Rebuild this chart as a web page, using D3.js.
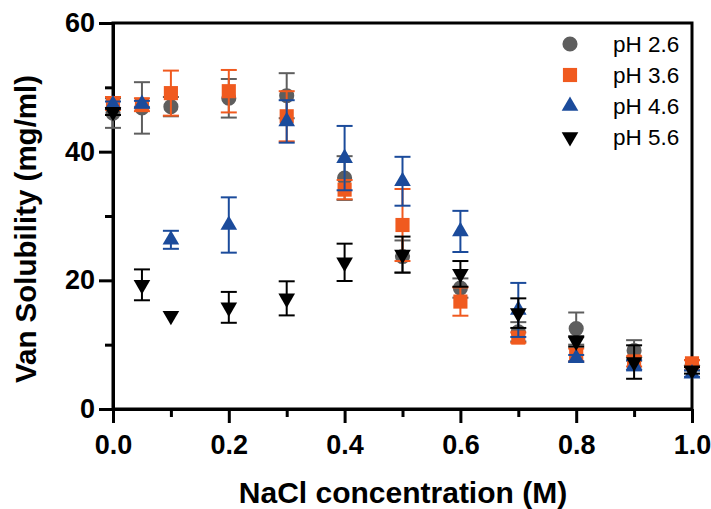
<!DOCTYPE html>
<html><head><meta charset="utf-8">
<script src="https://cdn.jsdelivr.net/npm/d3@7"></script>
<style>body{margin:0;background:#fff}svg{display:block}text{font-family:"Liberation Sans",Arial,Helvetica,sans-serif}</style>
</head><body>
<svg id="c" width="711" height="509"></svg>
<script>
const xValues = [0, 0.05, 0.1, 0.2, 0.3, 0.4, 0.5, 0.6, 0.7, 0.8, 0.9, 1.0];
const ph26 = [46.0, 46.8, 47.0, 48.3, 48.7, 35.9, 23.7, 18.8, 12.0, 12.5, 9.1, 6.8];
const ph26Err = [2.3, 4.0, 1.5, 3.0, 3.5, 3.4, 2.5, 1.5, 1.5, 2.5, 1.6, 0.8];
const ph36 = [47.5, 47.3, 49.1, 49.4, 45.5, 34.1, 28.6, 16.7, 11.1, 8.4, 7.4, 7.1];
const ph36Err = [1.0, 1.0, 3.5, 3.3, 3.9, 1.5, 5.6, 2.2, 0.8, 1.0, 0.8, 0.5];
const ph46 = [47.3, 47.4, 26.3, 28.6, 44.7, 39.0, 35.4, 27.6, 15.4, 7.9, 6.8, 5.5];
const ph46Err = [0.5, 0.5, 1.4, 4.3, 3.3, 5.0, 3.8, 3.2, 4.2, 0.5, 0.8, 0.5];
const ph56 = [46.2, 19.3, 14.5, 15.8, 17.2, 22.8, 24.0, 21.0, 14.9, 10.5, 7.3, 6.0];
const ph56Err = [0.5, 2.4, 0, 2.4, 2.65, 2.9, 2.8, 2.0, 2.3, 0.8, 2.6, 0.5];
const seriesNames = ["pH 2.6", "pH 3.6", "pH 4.6", "pH 5.6"];
const xTicks = [0, 0.2, 0.4, 0.6, 0.8, 1.0];
const xMinorTicks = [0.1, 0.3, 0.5, 0.7, 0.9];
const yTicks = [0, 20, 40, 60];
const yMinorTicks = [10, 30, 50];

const series = [
  {name: seriesNames[0], vals: ph26, err: ph26Err, color: "#5e5e5e", sym: d3.symbolCircle, size: 180, rot: 0},
  {name: seriesNames[1], vals: ph36, err: ph36Err, color: "#f05a1f", sym: d3.symbolSquare, size: 200, rot: 0},
  {name: seriesNames[2], vals: ph46, err: ph46Err, color: "#1b4b9b", sym: d3.symbolTriangle, size: 120, rot: 0},
  {name: seriesNames[3], vals: ph56, err: ph56Err, color: "#000000", sym: d3.symbolTriangle, size: 120, rot: 180}
];

const svg = d3.select("#c");
const L = 113, R = 692, T = 23, B = 409;
const x = d3.scaleLinear().domain([0, 1]).range([L, R]);
const y = d3.scaleLinear().domain([0, 60]).range([B, T]);

svg.append("rect").attr("x", L).attr("y", T).attr("width", R - L).attr("height", B - T)
  .attr("fill", "none").attr("stroke", "#000").attr("stroke-width", 3);

const xAxis = svg.append("g").attr("transform", `translate(0,${B})`)
  .call(d3.axisBottom(x).tickValues(xTicks).tickFormat(d3.format(".1f")).tickSize(14).tickPadding(12).tickSizeOuter(0));
const xMinor = svg.append("g").attr("transform", `translate(0,${B})`)
  .call(d3.axisBottom(x).tickValues(xMinorTicks).tickFormat("").tickSize(8).tickSizeOuter(0));
const yAxis = svg.append("g").attr("transform", `translate(${L},0)`)
  .call(d3.axisLeft(y).tickValues(yTicks).tickFormat(d3.format("d")).tickSize(14).tickPadding(4).tickSizeOuter(0));
const yMinor = svg.append("g").attr("transform", `translate(${L},0)`)
  .call(d3.axisLeft(y).tickValues(yMinorTicks).tickFormat("").tickSize(8).tickSizeOuter(0));
[xAxis, xMinor, yAxis, yMinor].forEach(g => {
  g.select(".domain").attr("stroke-width", 3).attr("stroke", "#000");
  g.selectAll(".tick line").attr("stroke-width", 3).attr("stroke", "#000");
  g.selectAll("text").attr("font-size", 27).attr("font-weight", "bold").attr("fill", "#000");
});

svg.append("text").attr("x", 403).attr("y", 503).attr("text-anchor", "middle")
  .attr("font-size", 30).attr("font-weight", "bold").text("NaCl concentration (M)");
svg.append("text").attr("transform", "translate(36,229) rotate(-90)").attr("text-anchor", "middle")
  .attr("font-size", 29.5).attr("font-weight", "bold").text("Van Solubility (mg/ml)");

const plot = svg.append("g");
series.forEach(s => {
  const g = plot.append("g");
  const pts = xValues.map((xv, i) => ({x: xv, v: s.vals[i], e: s.err[i]}));
  const eb = g.selectAll("g.eb").data(pts.filter(d => d.e > 0)).enter().append("g").attr("stroke", s.color).attr("stroke-width", 2);
  eb.append("line").attr("x1", d => x(d.x)).attr("x2", d => x(d.x)).attr("y1", d => y(d.v - d.e)).attr("y2", d => y(d.v + d.e));
  eb.append("line").attr("x1", d => x(d.x) - 8).attr("x2", d => x(d.x) + 8).attr("y1", d => y(d.v + d.e)).attr("y2", d => y(d.v + d.e));
  eb.append("line").attr("x1", d => x(d.x) - 8).attr("x2", d => x(d.x) + 8).attr("y1", d => y(d.v - d.e)).attr("y2", d => y(d.v - d.e));
  g.selectAll("path.m").data(pts).enter().append("path")
    .attr("d", d3.symbol().type(s.sym).size(s.size))
    .attr("transform", d => `translate(${x(d.x)},${y(d.v)}) rotate(${s.rot})`)
    .attr("fill", s.color);
});

const leg = svg.append("g");
series.forEach((s, i) => {
  const yy = 44 + i * 31;
  leg.append("path").attr("d", d3.symbol().type(s.sym).size(s.size))
    .attr("transform", `translate(570,${yy}) rotate(${s.rot})`).attr("fill", s.color);
  leg.append("text").attr("x", 613).attr("y", yy + 8).attr("font-size", 22.5).attr("fill", "#000").text(s.name);
});
</script>
</body></html>
